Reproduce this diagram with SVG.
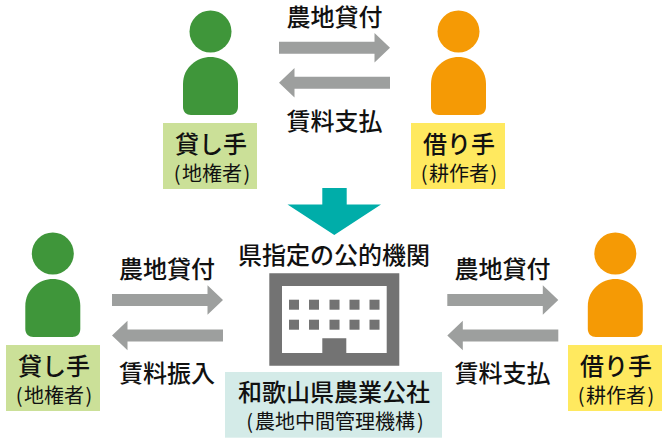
<svg xmlns="http://www.w3.org/2000/svg" width="666" height="443" viewBox="0 0 666 443">
<style>
text{font-family:"Noto Sans CJK JP","Noto Sans",sans-serif;fill:#111;text-anchor:middle;font-weight:500}
.a{font-size:24px}
.s{font-size:20px;font-weight:400}
.ar{fill:#9d9f9e}
.g{fill:#3f963a}
.o{fill:#f59a05}
.gb{fill:#cbe098}
.yb{fill:#ffe95f}
</style>
<defs>
<g id="person"><circle cx="0" cy="-25.500" r="21"/><path d="M-27.500 27C-27.500 10-13 0 0 0S27.500 10 27.500 27V50C27.500 55 24 58 19.500 58H-19.500C-24 58-27.500 55-27.500 50Z"/></g>
<path id="rarrow" d="M0-6H95.500V-14.700L111 0 95.500 14.700V6H0Z"/>
<path id="larrow" d="M111-6H15.500V-14.700L0 0 15.500 14.700V6H111Z"/>
</defs>
<rect width="666" height="443" fill="#fff"/>
<g id="connectors">
<use href="#rarrow" class="ar" x="279" y="47.700"/>
<use href="#larrow" class="ar" x="279" y="82.700"/>
<use href="#rarrow" class="ar" x="112" y="300"/>
<use href="#larrow" class="ar" x="112" y="335.500"/>
<use href="#rarrow" class="ar" x="447.300" y="300"/>
<use href="#larrow" class="ar" x="447.300" y="335.500"/>
<path id="down-arrow" d="M322.300 188H346.700V204.500H381L334.300 235 287.500 204.500H322.300Z" fill="#00ada9"/>
</g>
<g id="label-top-1"><text class="a" x="334.500" y="26">農地貸付</text></g>
<g id="label-top-2"><text class="a" x="334.500" y="130">賃料支払</text></g>
<g id="label-left-1"><text class="a" x="167" y="278">農地貸付</text></g>
<g id="label-left-2"><text class="a" x="167" y="382">賃料振入</text></g>
<g id="label-right-1"><text class="a" x="502.500" y="278">農地貸付</text></g>
<g id="label-right-2"><text class="a" x="502.500" y="382">賃料支払</text></g>
<g id="lender-top" class="g"><use href="#person" x="210.500" y="57"/></g>
<g id="lender-top-label"><rect class="gb" x="163" y="123" width="94" height="66"/><text class="a" x="211" y="153">貸し手</text><text class="s" x="212" y="181">(<tspan dx="1.500">地権者</tspan><tspan dx="1.500">)</tspan></text></g>
<g id="borrower-top" class="o"><use href="#person" x="458.500" y="57"/></g>
<g id="borrower-top-label"><rect class="yb" x="411" y="123" width="94" height="66"/><text class="a" x="459" y="153">借り手</text><text class="s" x="459" y="181">(<tspan dx="1.500">耕作者</tspan><tspan dx="1.500">)</tspan></text></g>
<g id="lender-bottom" class="g"><use href="#person" x="52.800" y="279"/></g>
<g id="lender-bottom-label"><rect class="gb" x="6" y="345" width="94" height="66"/><text class="a" x="54" y="375">貸し手</text><text class="s" x="54" y="403">(<tspan dx="1.500">地権者</tspan><tspan dx="1.500">)</tspan></text></g>
<g id="borrower-bottom" class="o"><use href="#person" x="615.300" y="279"/></g>
<g id="borrower-bottom-label"><rect class="yb" x="568" y="345" width="94" height="66"/><text class="a" x="616" y="375">借り手</text><text class="s" x="616" y="403">(<tspan dx="1.500">耕作者</tspan><tspan dx="1.500">)</tspan></text></g>
<g id="public-org">
<text class="a" x="334" y="264">県指定の公的機関</text>
<path fill="#737373" fill-rule="evenodd" d="M269.300 273.300H399.300V365.700H269.300ZM282 286V353H322.300V338.300H346.300V353H386.700V286Z"/>
<g fill="#737373">
<rect x="289" y="299.700" width="10" height="10"/><rect x="309" y="299.700" width="10" height="10"/><rect x="329.500" y="299.700" width="10" height="10"/><rect x="349.500" y="299.700" width="10" height="10"/><rect x="369.500" y="299.700" width="10" height="10"/>
<rect x="289" y="319.700" width="10" height="10"/><rect x="309" y="319.700" width="10" height="10"/><rect x="329.500" y="319.700" width="10" height="10"/><rect x="349.500" y="319.700" width="10" height="10"/><rect x="369.500" y="319.700" width="10" height="10"/>
</g>
<rect x="225" y="372" width="217" height="65.700" fill="#d4ebe8"/>
<text class="a" x="334" y="401">和歌山県農業公社</text>
<text class="s" x="335" y="429">(<tspan dx="2">農地中間管理機構</tspan><tspan dx="2">)</tspan></text>
</g>
</svg>
